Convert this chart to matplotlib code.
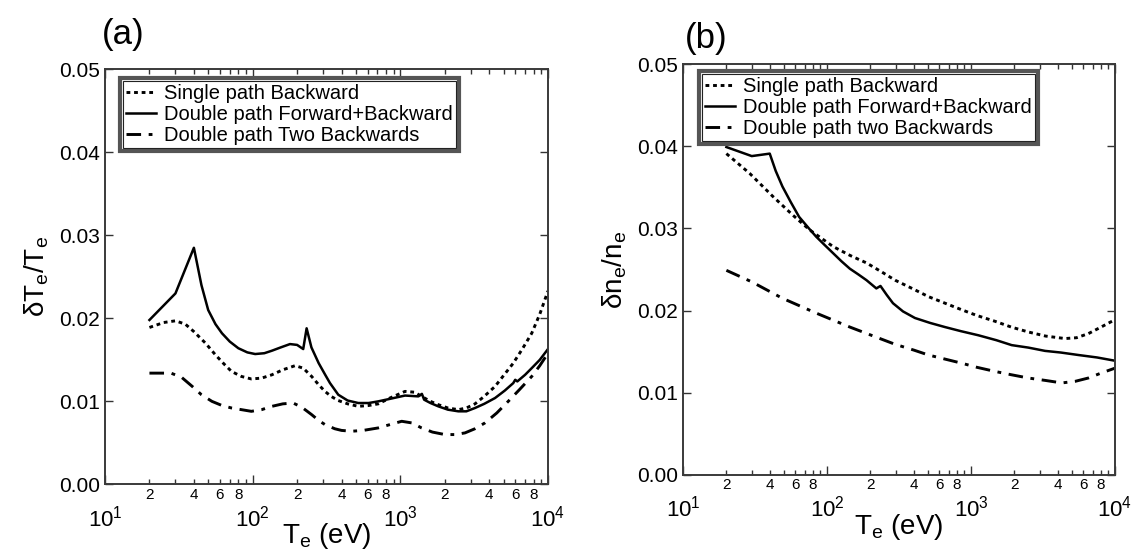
import numpy as np
import matplotlib
matplotlib.use('agg')
import matplotlib.pyplot as plt
from matplotlib.ticker import LogLocator, FuncFormatter, MultipleLocator, NullLocator
from matplotlib.patches import Rectangle

plt.rcParams['font.family'] = ['Liberation Sans', 'DejaVu Sans']
plt.rcParams['mathtext.fontset'] = 'custom'
plt.rcParams['mathtext.rm'] = 'Liberation Sans'
plt.rcParams['mathtext.it'] = 'Liberation Sans:italic'

# ---- (a) temperature error ----
te_a_fb = [20, 30, 40, 45, 50, 56, 62, 70, 80, 92, 104, 120, 135, 155, 179, 200, 220,
           232, 250, 280, 310, 334, 380, 440, 519, 610, 709, 850, 1076, 1325, 1400, 1450,
           1600, 1808, 2100, 2470, 2800, 3205, 3700, 4380, 5100, 5820, 6000, 6200, 7000,
           7760, 8800, 10000]
dT_a_fb = [0.0198, 0.0230, 0.0285, 0.0240, 0.0210, 0.0193, 0.0182, 0.0172, 0.0164, 0.0159,
           0.0157, 0.0158, 0.0161, 0.0165, 0.0169, 0.0168, 0.0163,
           0.0188, 0.0165, 0.0146, 0.0132, 0.0122, 0.0108, 0.0101, 0.0098, 0.0098, 0.0100,
           0.0103, 0.0107, 0.0106, 0.0109, 0.0102,
           0.0098, 0.0094, 0.0090, 0.0088, 0.0088, 0.0092, 0.0097, 0.0104, 0.0113,
           0.0122, 0.0126, 0.0124, 0.0132, 0.0140, 0.0150, 0.0163]

te_a_sb = [20, 25, 30, 35, 40, 48, 56, 64, 72, 84, 98, 115, 135, 160, 194, 220, 251, 280,
           309, 340, 380, 440, 519, 610, 709, 850, 1076, 1250, 1393, 1600, 1808, 2100,
           2470, 2800, 3205, 3700, 4380, 5000, 5820, 6700, 7760, 8800, 10000]
dT_sb = [0.0189, 0.0195, 0.0197, 0.0193, 0.0184, 0.0170, 0.0156, 0.0145, 0.0136, 0.0130,
         0.0127, 0.0128, 0.0132, 0.0138, 0.0143, 0.0140, 0.0130, 0.0120,
         0.0112, 0.0106, 0.0101, 0.0097, 0.0094, 0.0095, 0.0097, 0.0104, 0.0112, 0.0111,
         0.0106, 0.0100, 0.0096, 0.0092,
         0.0090, 0.0092, 0.0097, 0.0106, 0.0118, 0.0131, 0.0146, 0.0163, 0.0182, 0.0205,
         0.0233]

te_a_bb = [20, 28, 33, 39, 45, 53, 62, 72, 84, 98, 115, 135, 160, 188, 215, 251, 280, 309,
           360, 400, 468, 560, 709, 850, 1022, 1200, 1393, 1650, 2005, 2350, 2740, 3200,
           3740, 4500, 5380, 6400, 7760, 8800, 10000]
dT_bb = [0.0134, 0.0134, 0.0129, 0.0118, 0.0108, 0.0100, 0.0095, 0.0092, 0.0090, 0.0088,
         0.0090, 0.0094, 0.0097, 0.0098, 0.0093, 0.0084, 0.0077, 0.0072,
         0.0067, 0.0065, 0.0064, 0.0065, 0.0068, 0.0072, 0.0076, 0.0074, 0.0068, 0.0063,
         0.0060, 0.0060, 0.0062, 0.0067,
         0.0074, 0.0086, 0.0100, 0.0114, 0.0130, 0.0143, 0.0158]

# ---- (b) density error ----
te_b_fb = [20, 30, 40, 44, 49, 56, 64, 74, 84, 96, 110, 126, 144, 165, 188, 220, 235, 260,
           287, 337, 408, 520, 659, 850, 1124, 1500, 1916, 2500, 3266, 4200, 5560, 7500,
           10000]
dn_fb = [0.0399, 0.0388, 0.0391, 0.0370, 0.0351, 0.0332, 0.0314, 0.0301, 0.0290, 0.0280,
         0.0270, 0.0260, 0.0251, 0.0244, 0.0237, 0.0227, 0.0230, 0.0219,
         0.0209, 0.0199, 0.0191, 0.0185, 0.0180, 0.0175, 0.0170, 0.0164, 0.0158, 0.0155,
         0.0151, 0.0149, 0.0146, 0.0143, 0.0139]

te_b_sb = [20, 29, 42, 58, 76, 110, 145, 188, 240, 297, 400, 506, 660, 862, 1100, 1468,
           1900, 2500, 3300, 4500, 5400, 6530, 8000, 10000]
dn_sb = [0.0391, 0.0367, 0.0339, 0.0316, 0.0298, 0.0278, 0.0267, 0.0258, 0.0247, 0.0237,
         0.0226, 0.0217, 0.0209, 0.0201, 0.0194, 0.0187, 0.0180, 0.0174, 0.0169, 0.0166,
         0.0167, 0.0172, 0.0180, 0.0189]

te_b_bb = [20, 30, 49, 84, 144, 210, 297, 400, 506, 660, 862, 1100, 1468, 1900, 2500, 3300,
           4270, 5300, 6530, 8000, 10000]
dn_bb = [0.0249, 0.0235, 0.0215, 0.0197, 0.0180, 0.0169, 0.0159, 0.0152, 0.0146, 0.0141,
         0.0136, 0.0131, 0.0126, 0.0122, 0.0118, 0.0115, 0.0112, 0.0114, 0.0118, 0.0124,
         0.0130]

labels_a = ['Single path Backward', 'Double path Forward+Backward', 'Double path Two Backwards']
labels_b = ['Single path Backward', 'Double path Forward+Backward', 'Double path two Backwards']

DOT = (0, (1.3, 1.3))
DASHDOT = (0, (5.0, 2.6, 1.3, 2.6))
LW = 1.8


def major_fmt(v, pos):
    return r'$\mathregular{10^{%d}}$' % int(round(np.log10(v)))


def minor_fmt(v, pos):
    m = int(round(v / 10 ** np.floor(np.log10(v) + 1e-9)))
    return str(m) if m in (2, 4, 6, 8) else ''


def style_axes(ax, ylabel):
    ax.set_xscale('log')
    ax.set_xlim(10, 1e4)
    ax.set_ylim(0, 0.05)
    ax.xaxis.set_major_locator(LogLocator(base=10, numticks=10))
    ax.xaxis.set_minor_locator(LogLocator(base=10, subs=np.arange(2, 10), numticks=20))
    ax.xaxis.set_major_formatter(FuncFormatter(major_fmt))
    ax.xaxis.set_minor_formatter(FuncFormatter(minor_fmt))
    ax.yaxis.set_major_locator(MultipleLocator(0.01))
    ax.yaxis.set_minor_locator(NullLocator())
    ax.yaxis.set_major_formatter(FuncFormatter(lambda v, p: '%.2f' % v))
    ax.tick_params(which='both', direction='in', top=True, right=True, color='#333333',
                   width=1.0)
    ax.tick_params(axis='x', which='major', length=6.5, pad=15, labelsize=16)
    ax.tick_params(axis='x', which='minor', length=3.6, pad=2.5, labelsize=11)
    ax.tick_params(axis='y', which='major', length=5.5, pad=3.5, labelsize=15)
    for s in ax.spines.values():
        s.set_color('#3a3a3a')
        s.set_linewidth(1.4)
    ax.set_xlabel(r'T$_{\mathregular{e}}$ (eV)', fontsize=20, labelpad=-7)
    ax.set_ylabel(ylabel, fontsize=20, labelpad=6)


fig = plt.figure(figsize=(11.35, 5.52), dpi=100)
ax1 = fig.add_axes([0.0925, 0.1225, 0.3903, 0.7520])
ax2 = fig.add_axes([0.6018, 0.1395, 0.3806, 0.7445])

ax1.plot(te_a_sb, dT_sb, color='k', lw=LW + 0.3, linestyle=DOT, label=labels_a[0])
ax1.plot(te_a_fb, dT_a_fb, color='k', lw=LW, linestyle='-', label=labels_a[1])
ax1.plot(te_a_bb, dT_bb, color='k', lw=LW + 0.3, linestyle=DASHDOT, label=labels_a[2])

ax2.plot(te_b_sb, dn_sb, color='k', lw=LW + 0.3, linestyle=DOT, label=labels_b[0])
ax2.plot(te_b_fb, dn_fb, color='k', lw=LW, linestyle='-', label=labels_b[1])
ax2.plot(te_b_bb, dn_bb, color='k', lw=LW + 0.3, linestyle=DASHDOT, label=labels_b[2])

style_axes(ax1, r'δT$_{\mathregular{e}}$/T$_{\mathregular{e}}$')
style_axes(ax2, r'δn$_{\mathregular{e}}$/n$_{\mathregular{e}}$')

legends = []
for ax, anchor in ((ax1, (15 / 443, 1 - 9 / 414)), (ax2, (16 / 432, 1 - 7 / 409))):
    leg = ax.legend(loc='upper left', bbox_to_anchor=anchor, borderaxespad=0,
                    fontsize=14.5, labelspacing=0.1, handlelength=1.5,
                    handletextpad=0.4, borderpad=0.3, fancybox=False,
                    framealpha=1)
    leg.get_frame().set_edgecolor('#555555')
    leg.get_frame().set_linewidth(3.0)
    legends.append(leg)

# thin inner border inside each legend frame
fig.canvas.draw()
for leg in legends:
    bb = leg.get_frame().get_window_extent()
    inv = fig.transFigure.inverted()
    (x0, y0), (x1, y1) = inv.transform([[bb.x0 + 3, bb.y0 + 3], [bb.x1 - 3, bb.y1 - 3]])
    fig.patches.append(Rectangle((x0, y0), x1 - x0, y1 - y0, transform=fig.transFigure,
                                 fill=False, edgecolor='#222222', linewidth=0.8,
                                 zorder=10))

fig.text(0.090, 0.920, '(a)', fontsize=25)
fig.text(0.603, 0.913, '(b)', fontsize=25)

fig.savefig('out.png', dpi=100, facecolor='white')
